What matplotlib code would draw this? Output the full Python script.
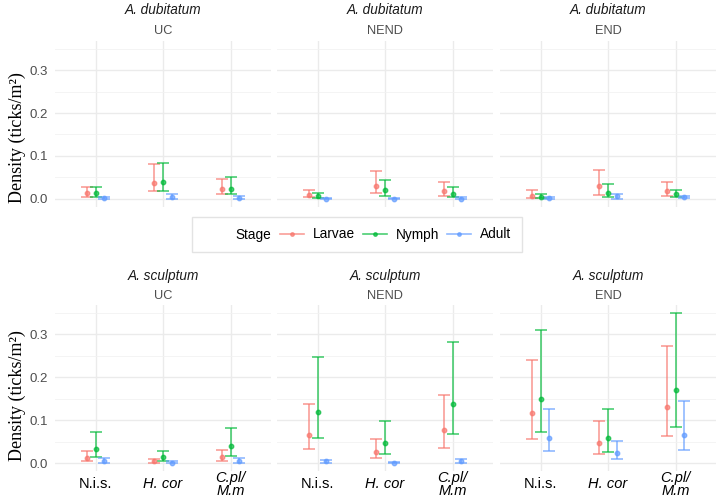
import numpy as np
import matplotlib.pyplot as plt
from matplotlib.lines import Line2D

plt.rcParams['font.family'] = ['Liberation Sans', 'DejaVu Sans']

hosts = ['N.i.s.', 'H. cor', 'C.pl/\nM.m']
host_italic = [False, True, True]
stages = ['Larvae', 'Nymph', 'Adult']
colors = ['#F8766D', '#00BA38', '#619CFF']
habitats = ['UC', 'NEND', 'END']
species = ['A. dubitatum', 'A. sculptum']

# rows = host, cols = Larvae, Nymph, Adult
dub_uc_mean = [[0.013, 0.013, 0.0015], [0.037, 0.039, 0.004], [0.023, 0.023, 0.003]]
dub_uc_lo = [[0.005, 0.005, 0.0], [0.018, 0.018, 0.001], [0.011, 0.011, 0.0]]
dub_uc_hi = [[0.027, 0.027, 0.005], [0.082, 0.083, 0.011], [0.047, 0.050, 0.007]]

dub_nend_mean = [[0.010, 0.006, 0.0005], [0.031, 0.020, 0.001], [0.018, 0.012, 0.001]]
dub_nend_lo = [[0.004, 0.002, 0.0], [0.015, 0.008, 0.0], [0.007, 0.004, 0.0]]
dub_nend_hi = [[0.022, 0.015, 0.002], [0.066, 0.044, 0.002], [0.040, 0.028, 0.004]]

dub_end_mean = [[0.008, 0.005, 0.0015], [0.030, 0.014, 0.007], [0.018, 0.011, 0.005]]
dub_end_lo = [[0.003, 0.002, 0.0], [0.009, 0.005, 0.001], [0.008, 0.005, 0.002]]
dub_end_hi = [[0.021, 0.011, 0.005], [0.067, 0.034, 0.012], [0.039, 0.020, 0.008]]

scu_uc_mean = [[0.012, 0.034, 0.006], [0.006, 0.014, 0.002], [0.014, 0.040, 0.006]]
scu_uc_lo = [[0.005, 0.016, 0.0015], [0.002, 0.005, 0.0], [0.005, 0.018, 0.002]]
scu_uc_hi = [[0.028, 0.073, 0.012], [0.011, 0.030, 0.005], [0.031, 0.083, 0.013]]

scu_nend_mean = [[0.067, 0.120, 0.005], [0.027, 0.048, 0.002], [0.077, 0.138, 0.005]]
scu_nend_lo = [[0.033, 0.060, 0.0], [0.012, 0.023, 0.0], [0.037, 0.068, 0.0]]
scu_nend_hi = [[0.139, 0.247, 0.009], [0.056, 0.099, 0.004], [0.158, 0.281, 0.010]]

scu_end_mean = [[0.117, 0.150, 0.060], [0.047, 0.060, 0.024], [0.132, 0.171, 0.067]]
scu_end_lo = [[0.057, 0.073, 0.028], [0.021, 0.027, 0.010], [0.064, 0.084, 0.031]]
scu_end_hi = [[0.240, 0.309, 0.127], [0.099, 0.126, 0.053], [0.272, 0.350, 0.146]]

panels = [
    [(dub_uc_mean, dub_uc_lo, dub_uc_hi), (dub_nend_mean, dub_nend_lo, dub_nend_hi),
     (dub_end_mean, dub_end_lo, dub_end_hi)],
    [(scu_uc_mean, scu_uc_lo, scu_uc_hi), (scu_nend_mean, scu_nend_lo, scu_nend_hi),
     (scu_end_mean, scu_end_lo, scu_end_hi)],
]

W, H = 720, 497
fig = plt.figure(figsize=(7.2, 4.97), dpi=100)

lefts = [55, 277, 500]
pw = 216
row_top = [41, 305]
row_bot = [206.5, 471]
offsets = [-0.133, 0.0, 0.133]

for r in range(2):
    for c in range(3):
        ax = fig.add_axes([lefts[c] / W, 1 - row_bot[r] / H, pw / W, (row_bot[r] - row_top[r]) / H])
        mean, lo, hi = [np.array(a) for a in panels[r][c]]
        x = np.arange(1, len(hosts) + 1)
        for s in range(3):
            xs = x + offsets[s]
            yerr = np.vstack([mean[:, s] - lo[:, s], hi[:, s] - mean[:, s]])
            ax.errorbar(xs, mean[:, s], yerr=yerr, fmt='o', color=colors[s], ms=3.2,
                        capsize=4.6, elinewidth=1.2, capthick=1.2, alpha=0.7, zorder=3)
        ax.set_xlim(0.4, 3.6)
        ax.set_ylim(-0.0175, 0.3675)
        ax.set_yticks([0.0, 0.1, 0.2, 0.3])
        ax.set_yticks([0.05, 0.15, 0.25, 0.35], minor=True)
        ax.set_xticks(x)
        ax.grid(True, which='major', color='#EBEBEB', lw=1.0)
        ax.grid(True, which='minor', axis='y', color='#F2F2F2', lw=0.6)
        ax.set_axisbelow(True)
        for sp in ax.spines.values():
            sp.set_visible(False)
        ax.tick_params(length=0, which='both')
        if c == 0:
            ax.set_yticklabels(['0.0', '0.1', '0.2', '0.3'], fontsize=9.5, color='#4D4D4D')
            ax.tick_params(axis='y', pad=5)
        else:
            ax.set_yticklabels([])
        if r == 1:
            ax.set_xticklabels(hosts, fontsize=10.5, color='black', linespacing=0.9)
            for lab, it in zip(ax.get_xticklabels(), host_italic):
                lab.set_va('center')
                if it:
                    lab.set_style('italic')
            ax.tick_params(axis='x', pad=9.5)
        else:
            ax.set_xticklabels([])
        cx = (lefts[c] + pw / 2) / W
        ty = [10, 276][r]
        sy = [31, 296][r]
        fig.text(cx, 1 - ty / H, species[r], ha='center', va='center', fontsize=9.8,
                 style='italic', color='#1A1A1A')
        fig.text(cx, 1 - sy / H, habitats[c], ha='center', va='center', fontsize=9.2,
                 color='#4D4D4D')

for yc in [138, 396]:
    fig.text(17 / W, 1 - yc / H, 'Density (ticks/m²)', rotation=90, ha='center', va='center',
             fontsize=13, family=['Liberation Serif', 'DejaVu Serif'])

handles = [Line2D([], [], color='none')] + [
    Line2D([], [], color=col, marker='o', ms=2.5, lw=1.2, alpha=0.7) for col in colors]
leg = fig.legend(handles, ['Stage'] + stages, ncol=4, loc='center',
                 bbox_to_anchor=(357 / W, 1 - 234.5 / H), frameon=True, fontsize=9.8,
                 handlelength=1.8, columnspacing=0.6, handletextpad=0.6,
                 borderpad=0.8)
leg.get_frame().set_edgecolor('#DDDDDD')
leg.get_frame().set_linewidth(1.0)
leg.get_frame().set_boxstyle('square', pad=0)

fig.savefig('out.png', dpi=100)
